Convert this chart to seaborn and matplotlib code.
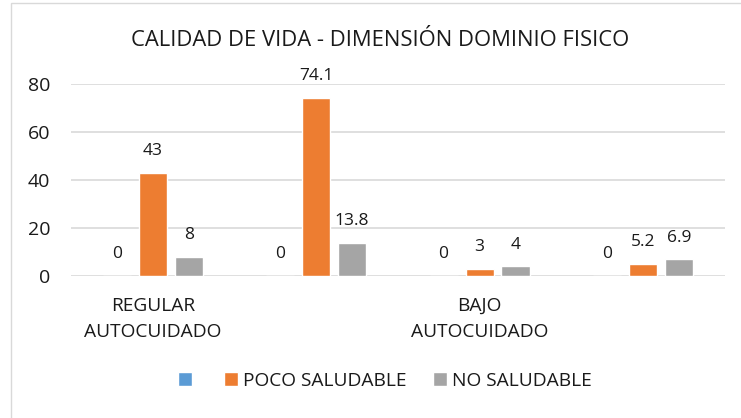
import pandas as pd
import matplotlib.pyplot as plt
import seaborn as sns
from matplotlib.patches import Rectangle

# --- DATI ---
categories = ["g1", "g2", "g3", "g4"]
tick_labels = ["REGULAR\nAUTOCUIDADO", "", "BAJO\nAUTOCUIDADO", ""]
series = ["", "POCO SALUDABLE", "NO SALUDABLE"]
serie_blu = [0, 0, 0, 0]
poco_saludable = [43, 74.1, 3, 5.2]
no_saludable = [8, 13.8, 4, 6.9]

colors = ["#5B9BD5", "#ED7D31", "#A5A5A5"]
txt = "#1A1A1A"

rows = []
for name, vals in zip(series, [serie_blu, poco_saludable, no_saludable]):
    for cat, v in zip(categories, vals):
        rows.append({"cat": cat, "serie": name, "val": v})
df = pd.DataFrame(rows)

sns.set_theme(style="white")
plt.rcParams['font.family'] = ['Open Sans', 'DejaVu Sans']

fig = plt.figure(figsize=(7.41, 4.18), dpi=100)
ax = fig.add_axes([0.0958, 0.3397, 0.8822, 0.4593])

sns.barplot(data=df, x="cat", y="val", hue="serie", hue_order=series,
            order=categories, palette=colors, width=0.66, gap=0.22,
            saturation=1, ax=ax, legend=False)

for cont in ax.containers:
    ax.bar_label(cont, fmt="{:g}", padding=10, fontsize=12.5, color=txt)

ax.set_ylim(0, 80)
ax.set_yticks([0, 20, 40, 60, 80])
ax.set_xlim(-0.5, 3.5)
ax.set_xticks(range(len(categories)))
ax.set_xticklabels(tick_labels, fontsize=13.8, color=txt, linespacing=1.55)
ax.tick_params(axis="y", labelsize=14, pad=15, length=0, labelcolor=txt)
ax.tick_params(axis="x", length=0, pad=15)
ax.set_xlabel("")
ax.set_ylabel("")
ax.yaxis.grid(True, color="#D9D9D9", linewidth=1.2)
ax.set_axisbelow(True)
for s in ax.spines.values():
    s.set_visible(False)

leg = ax.legend(ax.containers, series, loc="center", bbox_to_anchor=(0.52, 0.0885),
                bbox_transform=fig.transFigure, ncol=3, frameon=False,
                fontsize=13.8, handlelength=0.72, handleheight=0.72,
                handletextpad=0.3, columnspacing=1.35)
for t in leg.get_texts():
    t.set_color(txt)

fig.text(0.513, 0.904, "CALIDAD DE VIDA - DIMENSIÓN DOMINIO FISICO",
         ha="center", va="center", fontsize=15.8, color=txt)

fig.patches.append(Rectangle((11 / 741, -0.01), 0.99, 1 - 3 / 418 + 0.01,
                             transform=fig.transFigure, fill=False,
                             edgecolor="#D9D9D9", linewidth=1))

fig.savefig("out.png", dpi=100)
